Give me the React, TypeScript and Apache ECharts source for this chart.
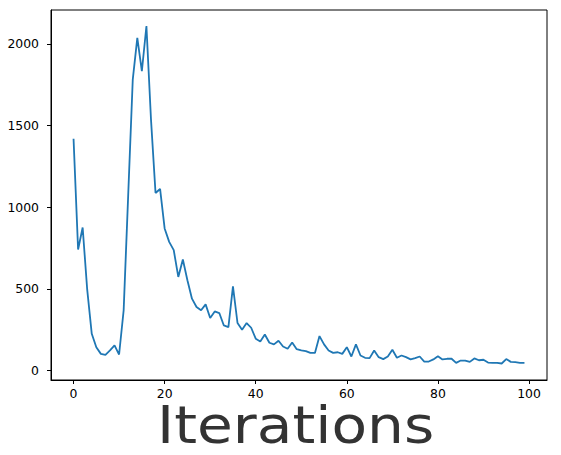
import React, { useEffect, useRef } from "react";
import * as echarts from "echarts";

const lossValues: number[] = [
  1420, 741, 876, 495, 225, 143, 102, 96, 123, 154,
  98, 368, 1075, 1781, 2037, 1833, 2110, 1540, 1087, 1112,
  870, 788, 737, 573, 680, 553, 440, 389, 369, 405,
  322, 362, 352, 276, 266, 516, 291, 250, 291, 262,
  195, 178, 221, 170, 160, 182, 147, 133, 172, 131,
  123, 119, 108, 108, 211, 160, 123, 108, 112, 102,
  143, 86, 160, 92, 78, 76, 123, 82, 70, 86,
  127, 78, 92, 82, 68, 76, 86, 55, 55, 68,
  88, 68, 72, 72, 47, 61, 61, 53, 74, 63,
  66, 49, 47, 47, 43, 70, 53, 51, 47, 47,
];

const xTicks: number[] = [0, 20, 40, 60, 80, 100];
const yTicks: number[] = [0, 500, 1000, 1500, 2000];
const xLabel = "Iterations";

export default function App() {
  const ref = useRef<HTMLDivElement>(null);

  useEffect(() => {
    if (!ref.current) return;
    const chart = echarts.init(ref.current, null, { renderer: "svg" });
    const font = "DejaVu Sans";
    const yMin = -58;
    const yMax = 2208;
    chart.setOption({
      animation: false,
      backgroundColor: "#ffffff",
      grid: {
        left: 51,
        right: 14,
        top: 10,
        bottom: 75,
        show: true,
        borderColor: "#000000",
        borderWidth: 1,
        backgroundColor: "transparent",
      },
      xAxis: {
        type: "value",
        min: -4.95,
        max: 103.95,
        splitLine: { show: false },
        axisLine: { show: true, onZero: false, lineStyle: { color: "#000", width: 1 } },
        axisTick: {
          show: true,
          length: 4,
          lineStyle: { color: "#000", width: 1 },
          customValues: xTicks,
        },
        axisLabel: {
          show: true,
          color: "#000",
          fontFamily: font,
          fontSize: 12.4,
          margin: 7,
          customValues: xTicks,
          formatter: (v: number) => String(v),
        },
      },
      yAxis: {
        type: "value",
        min: yMin,
        max: yMax,
        splitLine: { show: false },
        axisLine: { show: true, onZero: false, lineStyle: { color: "#000", width: 1 } },
        axisTick: {
          show: true,
          length: 4,
          lineStyle: { color: "#000", width: 1 },
          customValues: yTicks,
        },
        axisLabel: {
          show: true,
          color: "#000",
          fontFamily: font,
          fontSize: 12.4,
          margin: 12,
          customValues: yTicks,
          formatter: (v: number) => String(v),
        },
      },
      series: [
        {
          type: "line",
          data: lossValues.map((v, i) => [i, v]),
          showSymbol: false,
          symbol: "none",
          lineStyle: { color: "#1f77b4", width: 1.8 },
          itemStyle: { color: "#1f77b4" },
        },
      ],
      graphic: [
        {
          type: "text",
          x: 157,
          y: 425,
          scaleX: 1.12,
          style: {
            text: xLabel,
            fontFamily: font,
            fontSize: 52,
            fill: "#333333",
            verticalAlign: "middle",
          },
        },
      ],
    });
    return () => chart.dispose();
  }, []);

  return (
    <div
      ref={ref}
      style={{ position: "absolute", left: 0, top: 0, width: 561, height: 455 }}
    />
  );
}
